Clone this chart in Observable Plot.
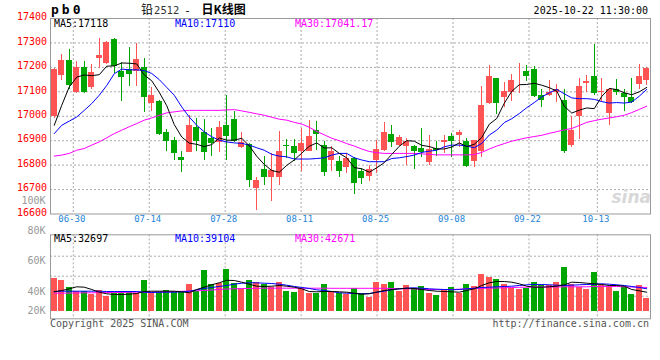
<!DOCTYPE html>
<html><head><meta charset="utf-8">
<script src="https://cdn.jsdelivr.net/npm/d3@7"></script>
<script src="https://cdn.jsdelivr.net/npm/@observablehq/plot@0.6"></script>
<style>
html,body{margin:0;padding:0;background:#fff;}
#chart{position:relative;width:660px;height:360px;overflow:hidden;background:#fff;font-family:"DejaVu Sans Mono",monospace;}
#chart svg{position:absolute;left:0;top:0;}
.t{position:absolute;white-space:nowrap;font-family:"DejaVu Sans Mono",monospace;font-size:10px;line-height:12px;}
</style></head><body>
<div id="chart"></div>
<script>
// ---- data ----
const dates = ["06-25","06-26","06-27","06-30","07-01","07-02","07-03","07-04","07-07","07-08","07-09","07-10","07-11","07-14","07-15","07-16","07-17","07-18","07-21","07-22","07-23","07-24","07-25","07-28","07-29","07-30","07-31","08-01","08-04","08-05","08-06","08-07","08-08","08-11","08-12","08-13","08-14","08-15","08-18","08-19","08-20","08-21","08-22","08-25","08-26","08-27","08-28","08-29","09-01","09-02","09-03","09-04","09-05","09-08","09-09","09-10","09-11","09-12","09-15","09-16","09-17","09-18","09-19","09-22","09-23","09-24","09-25","09-26","09-29","09-30","10-09","10-10","10-13","10-14","10-15","10-16","10-17","10-20","10-21","10-22"];
const open = [16997,17167,17228,17099,17201,17116,17235,17215,17315,17183,
  17192,17185,17198,17054,17061,16932,16902,16830,16851,16952,
  16932,16909,16891,16963,16988,16872,16886,16705,16784,16749,
  16749,16882,16878,16855,16855,16943,16882,16818,16814,16789,
  16827,16773,16753,16818,16861,16927,16882,16875,16878,16868,
  16810,16868,16891,16918,16920,16898,16814,16857,17052,17154,
  17075,17096,17177,17183,17192,17086,17083,17099,17065,16879,
  16997,17136,17163,17098,17010,17110,17092,17077,17129,17147];
const high = [17195,17251,17273,17222,17222,17212,17317,17305,17319,17221,
  17283,17299,17238,17118,17065,16946,16915,16855,17004,16990,
  16988,16950,16977,17086,17018,16932,16890,16750,16834,16846,
  16939,16906,16906,16950,16984,16977,16895,16875,16834,16848,
  16830,16787,16800,16902,16973,16963,16923,16909,16880,16950,
  16923,16895,16920,16929,16943,16909,16902,17122,17208,17156,
  17140,17170,17215,17208,17205,17110,17147,17130,17110,16997,
  17156,17167,17292,17154,17112,17151,17110,17156,17211,17199];
const low = [16990,17147,17110,17095,17093,17110,17197,17210,17175,17061,
  17122,17120,17014,17018,16920,16855,16817,16770,16850,16855,
  16817,16834,16851,16818,16891,16870,16708,16614,16716,16651,
  16716,16827,16814,16773,16855,16861,16753,16773,16750,16766,
  16681,16721,16732,16766,16855,16871,16875,16800,16783,16830,
  16798,16834,16848,16830,16871,16789,16789,16830,17050,17007,
  17034,17061,17092,17144,17078,17034,17079,17056,16848,16871,
  16905,17096,17086,17056,16963,17086,17018,17054,17110,17124];
const close = [17192,17228,17124,17201,17099,17177,17249,17300,17205,17160,
  17171,17232,17075,17086,16927,16895,16848,16819,16963,16898,
  16852,16889,16954,16916,16898,16891,16736,16739,16749,16776,
  16857,16875,16848,16887,16918,16927,16769,16855,16773,16827,
  16725,16746,16784,16865,16932,16891,16912,16898,16855,16851,
  16865,16859,16902,16895,16933,16793,16902,17042,17163,17054,
  17102,17147,17181,17164,17082,17063,17096,17110,16855,16943,
  17120,17143,17095,17102,17110,17096,17075,17056,17163,17197];
const ma5 = [16963,17045,17120,17160,17169,17166,17170,17205,17206,17218,
  17217,17214,17169,17145,17098,17043,16966,16915,16890,16885,
  16876,16884,16911,16902,16902,16910,16879,16836,16803,16778,
  16771,16799,16821,16849,16877,16891,16870,16871,16848,16830,
  16790,16785,16771,16789,16810,16844,16877,16900,16898,16881,
  16876,16866,16866,16874,16891,16876,16885,16913,16967,16991,
  17053,17102,17129,17130,17135,17127,17117,17103,17041,17013,
  17025,17034,17031,17081,17114,17109,17096,17088,17100,17118];
const ma10 = [16929,16963,16980,16997,17024,17052,17086,17126,17174,17193,
  17190,17190,17187,17175,17150,17118,17086,17038,16997,16963,
  16936,16916,16902,16895,16891,16889,16882,16871,16861,16844,
  16837,16834,16825,16825,16825,16827,16830,16841,16848,16848,
  16830,16821,16814,16814,16814,16827,16830,16835,16841,16852,
  16857,16861,16875,16882,16882,16878,16871,16889,16923,16943,
  16974,16990,17011,17035,17056,17079,17096,17110,17092,17075,
  17072,17072,17069,17060,17054,17056,17054,17058,17082,17110];
const ma30 = [16837,16841,16848,16861,16868,16882,16895,16912,16929,16943,
  16957,16970,16984,16993,17004,17014,17018,17022,17024,17024,
  17024,17024,17024,17026,17027,17022,17016,17010,17004,16996,
  16988,16984,16975,16968,16955,16938,16924,16910,16900,16888,
  16878,16866,16856,16851,16848,16848,16848,16848,16848,16846,
  16844,16842,16842,16842,16842,16842,16843,16852,16866,16878,
  16888,16898,16905,16912,16917,16922,16930,16937,16944,16950,
  16962,16975,16982,16988,16993,16998,17004,17015,17028,17041.17];
const volume = [48800,47250,42640,40200,40200,36920,40660,35180,38670,40000,
  40000,37640,47250,38670,39280,40660,39280,39280,44620,40000,
  53850,44620,45080,54500,45270,41320,47250,45740,44420,42640,
  45740,40000,39280,41780,38260,38260,44620,40200,38260,36920,
  41780,38260,34150,46130,44620,46130,40200,43960,42180,43300,
  38260,35900,40660,42640,38260,44620,43300,51210,49230,47910,
  44620,42180,41120,41780,45930,43960,43960,45930,55820,44620,
  42840,41320,52530,43960,43300,40000,42840,36920,43960,33130];
const volMa5 = [39690,40660,41780,43100,42840,41320,39280,37640,36920,36920,
  37230,37950,40000,40200,40200,40200,40200,39690,38670,41320,
  42840,44420,45740,47380,47250,46130,44810,43490,43300,43490,
  43960,43490,42840,41780,40000,39690,40000,40000,39690,39280,
  38260,37230,37640,39280,40660,41320,41780,42180,41980,41320,
  40660,40200,40000,39690,39280,40660,41780,43960,45740,46590,
  46590,46130,45070,43490,42840,42840,43100,43490,44420,46130,
  45930,45470,45070,44620,43960,43960,43490,41320,40460,39280];
const volMa10 = [40000,40200,40200,40200,40200,40200,40200,40000,40000,40000,
  40000,40000,39280,38970,39280,39280,39280,39690,40200,41120,
  41980,42640,43300,43960,44810,45470,45740,45740,45470,45270,
  44810,44160,43300,42640,41980,41120,40660,40000,38670,38260,
  37950,37640,37950,39280,40200,41120,41780,42180,42440,42180,
  41780,41520,41320,41120,41320,41780,42180,42640,42840,43100,
  43300,43490,43960,44420,44620,44620,44420,44160,43960,44160,
  44420,44620,44810,45070,44810,44420,43960,43300,42640,41780];
const volMa30 = [38260,38260,38460,38460,38670,38670,38770,38970,38970,38970,
  39180,39280,39280,39280,39490,39690,40000,40130,40330,40460,
  40660,40990,41320,41650,41780,41980,41980,42110,42180,42180,
  42180,42180,42180,42180,42180,42180,42180,42110,42110,42110,
  42110,42110,42110,42110,42110,41980,41780,41780,41780,41520,
  41320,41320,41320,41320,41520,41780,41980,42110,42180,42310,
  42440,42640,42770,42840,42970,42970,42970,42970,43100,43100,
  43100,43100,43300,43300,43300,43300,43100,42970,42840,42640];
const volLegend = {ma5: 32697, ma10: 39104, ma30: 42671};

const tickDates = ["06-30","07-14","07-28","08-11","08-25","09-08","09-22","10-13"];
const priceTicks = [16600,16700,16800,16900,17000,17100,17200,17300,17400];
const priceGrid = [16700,16800,16900,17000,17100,17200,17300];
const volTicks = [20000,40000,60000,80000,100000];
const volGrid = [35180,50090,63270];
const volBase = 20000;

// ---- build rows ----
const rows = dates.map((d, i) => ({date: d, open: open[i], high: high[i], low: low[i], close: close[i],
  ma5: ma5[i], ma10: ma10[i], ma30: ma30[i], vol: volume[i], vma5: volMa5[i], vma10: volMa10[i], vma30: volMa30[i]}));
const ups = rows.filter(r => r.close >= r.open);
const downs = rows.filter(r => r.close < r.open);

const RED = "#ff5454", GREEN = "#00a600", GRID = "#aaaaaa", FRAME = "#9a9a9a";
const W = 660, H = 360, ML = 50, MR = 10;
const pTop = 18, pBot = 213.5, vTop = 234.3, vBot = 318.3;
const font = "DejaVu Sans Mono";

const chart = document.getElementById("chart");
function add(svg) {
  svg.style.position = "absolute"; svg.style.left = "0px"; svg.style.top = "0px";
  svg.style.background = "transparent"; svg.style.overflow = "visible"; svg.style.maxWidth = "none";
  chart.appendChild(svg);
}
const priceY = {domain: [16600, 17400], axis: null};
const volY = {type: "linear", domain: [20000, 40000, 100000], range: [310.5, 291, 200], axis: null};

// volume panel grid + labels
add(Plot.plot({
  width: W, height: H, marginLeft: ML, marginRight: MR, marginTop: vTop, marginBottom: H - vBot,
  x: {type: "point", domain: dates, padding: 0, axis: null},
  y: volY,
  marks: [
    Plot.ruleY(volGrid, {stroke: GRID, strokeDasharray: "2,2"}),
    Plot.ruleX(tickDates, {stroke: GRID, strokeDasharray: "2,2"}),
    Plot.frame({stroke: FRAME}),
    Plot.text(volTicks, {y: d => d, text: d => d / 1000 + "K", frameAnchor: "left", dx: -5, textAnchor: "end",
      fill: "#999", fontSize: 10, fontFamily: font})
  ]
}));
// volume bars + MAs
add(Plot.plot({
  width: W, height: H, marginLeft: ML, marginRight: MR, marginTop: vTop, marginBottom: H - vBot,
  x: {type: "band", domain: dates, padding: 0, axis: null},
  y: volY,
  marks: [
    Plot.barY(ups, {x: "date", y1: volBase, y2: "vol", fill: RED, insetLeft: 0.8, insetRight: 0.8, shapeRendering: "crispEdges"}),
    Plot.barY(downs, {x: "date", y1: volBase, y2: "vol", fill: GREEN, insetLeft: 0.8, insetRight: 0.8, shapeRendering: "crispEdges"}),
    Plot.line(rows, {x: "date", y: "vma30", stroke: "#ff00ff", strokeWidth: 1}),
    Plot.line(rows, {x: "date", y: "vma10", stroke: "#0000ff", strokeWidth: 1}),
    Plot.line(rows, {x: "date", y: "vma5", stroke: "#000", strokeWidth: 1})
  ]
}));
// price grid + axes
add(Plot.plot({
  width: W, height: H, marginLeft: ML, marginRight: MR, marginTop: pTop, marginBottom: H - pBot,
  x: {type: "point", domain: dates, padding: 0, axis: null},
  y: priceY,
  marks: [
    Plot.ruleY(priceGrid, {stroke: GRID, strokeDasharray: "2,2"}),
    Plot.ruleX(tickDates, {stroke: GRID, strokeDasharray: "2,2"}),
    Plot.frame({stroke: FRAME}),
    Plot.text(priceTicks, {y: d => d, text: d => String(d), frameAnchor: "left", dx: -3.5, dy: -1.5, textAnchor: "end",
      fill: "#ff0000", fontSize: 10, fontFamily: font}),
    Plot.text(tickDates, {x: d => d, text: d => d, frameAnchor: "bottom", dy: 7.5, dx: -1.5,
      fill: "#1f86d8", fontSize: 9, fontFamily: font})
  ]
}));
// candles + MAs
add(Plot.plot({
  width: W, height: H, marginLeft: ML, marginRight: MR, marginTop: pTop, marginBottom: H - pBot,
  x: {type: "band", domain: dates, padding: 0, axis: null},
  y: priceY,
  marks: [
    Plot.ruleX(ups, {x: "date", y1: "low", y2: "high", stroke: RED, shapeRendering: "crispEdges"}),
    Plot.ruleX(downs, {x: "date", y1: "low", y2: "high", stroke: GREEN, shapeRendering: "crispEdges"}),
    Plot.barY(ups, {x: "date", y1: "open", y2: "close", fill: RED, insetLeft: 0.8, insetRight: 0.8, shapeRendering: "crispEdges"}),
    Plot.barY(downs, {x: "date", y1: "open", y2: "close", fill: GREEN, insetLeft: 0.8, insetRight: 0.8, shapeRendering: "crispEdges"}),
    Plot.line(rows, {x: "date", y: "ma30", stroke: "#ff00ff", strokeWidth: 1}),
    Plot.line(rows, {x: "date", y: "ma10", stroke: "#0000ff", strokeWidth: 1}),
    Plot.line(rows, {x: "date", y: "ma5", stroke: "#000", strokeWidth: 1})
  ]
}));

// texts
const last = rows.length - 1;
const texts = [
  {html: "pb0", css: "left:51px;top:3px;font-size:13px;line-height:13px;font-weight:bold;letter-spacing:3px;color:#000;"},
  {html: '<span style="font-family:\'Noto Sans CJK SC\';font-size:12px;">铅</span><span style="font-family:\'DejaVu Sans\';font-size:10px;color:#333;margin-left:1px;">2512</span><span style="font-family:\'DejaVu Sans\';font-size:11px;margin-left:6px;">-</span><span style="font-family:\'Noto Sans CJK SC\';font-size:12px;font-weight:bold;margin-left:12px;">日K线图</span>',
   css: "left:141px;top:1px;line-height:16px;color:#000;"},
  {html: "2025-10-22 11:30:00", css: "right:12px;top:5px;color:#000;"},
  {html: "MA5:" + ma5[last], css: "left:54px;top:18px;color:#000;"},
  {html: "MA10:" + ma10[last], css: "left:175px;top:18px;color:#0000ff;"},
  {html: "MA30:" + ma30[last].toFixed(2), css: "left:295px;top:18px;color:#ff00ff;"},
  {html: "MA5:" + volLegend.ma5, css: "left:54px;top:232.5px;color:#000;"},
  {html: "MA10:" + volLegend.ma10, css: "left:175px;top:232.5px;color:#0000ff;"},
  {html: "MA30:" + volLegend.ma30, css: "left:295px;top:232.5px;color:#ff00ff;"},
  {html: "Copyright 2025 SINA.COM", css: "left:50px;top:317.5px;color:#555;"},
  {html: "http://finance.sina.com.cn", css: "right:11px;top:317.5px;color:#555;"},
  {html: "sina", css: "right:9px;top:188px;font-family:'DejaVu Sans';font-size:17px;line-height:18px;font-style:italic;font-weight:bold;color:#d8d8d8;"}
];
for (const t of texts) {
  const el = document.createElement("div");
  el.className = "t";
  el.style.cssText += t.css;
  el.innerHTML = t.html;
  chart.appendChild(el);
}
</script></body></html>
